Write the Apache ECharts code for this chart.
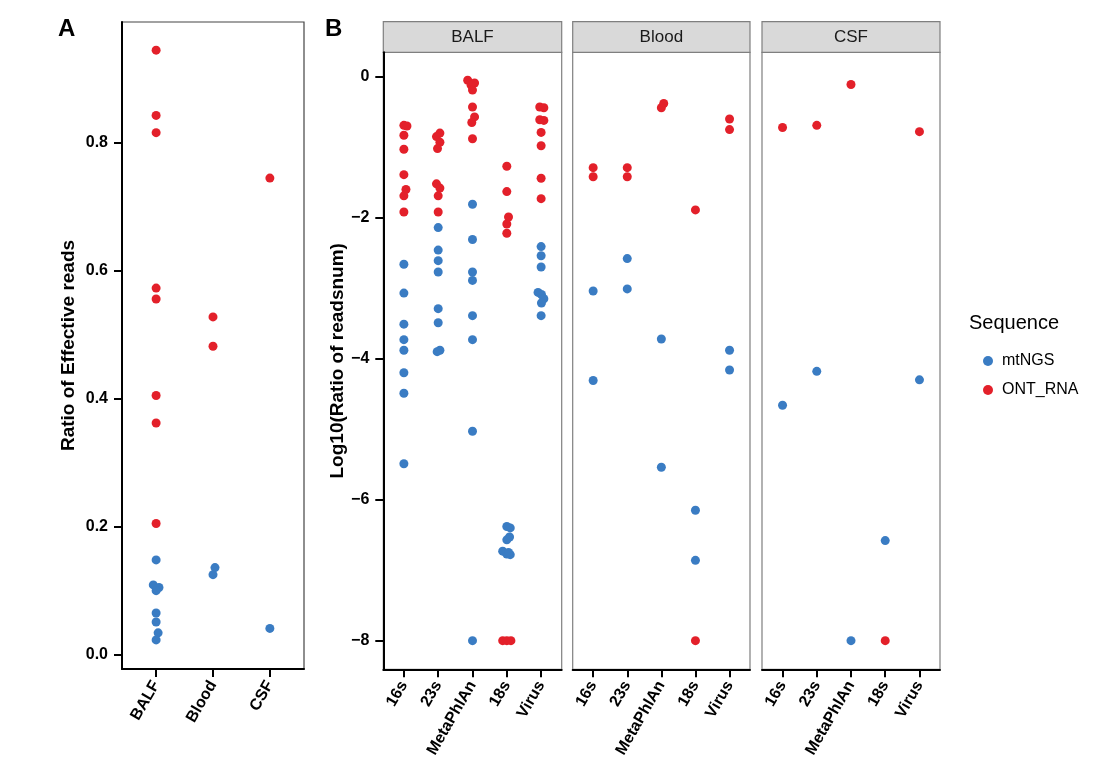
<!DOCTYPE html>
<html>
<head>
<meta charset="utf-8">
<script src="https://cdn.jsdelivr.net/npm/echarts@6/dist/echarts.min.js"></script>
<style>
    html, body {margin: 0; padding: 0; background: #fff;}
    #chart {width: 1110px; height: 780px;}
</style>
</head>
<body>
<div id="chart"></div>
<script>
// categories
var sampleCats = ['BALF', 'Blood', 'CSF'];
var dbCats = ['16s', '23s', 'MetaPhlAn', '18s', 'Virus'];
var seqNames = ['mtNGS', 'ONT_RNA'];

// tick labels
var effTicks = [0, 0.2, 0.4, 0.6, 0.8];
var logTicks = [0, -2, -4, -6, -8];

// [category, value, jitter in category units]
var effMtNGS = [
    ['BALF', 0.148, 0], ['BALF', 0.109, -0.05], ['BALF', 0.105, 0.05], ['BALF', 0.100, 0],
    ['BALF', 0.065, 0], ['BALF', 0.051, 0], ['BALF', 0.034, 0.035], ['BALF', 0.023, 0],
    ['Blood', 0.136, 0.035], ['Blood', 0.125, 0],
    ['CSF', 0.041, 0]
];
var effONT = [
    ['BALF', 0.945, 0], ['BALF', 0.843, 0], ['BALF', 0.816, 0], ['BALF', 0.573, 0],
    ['BALF', 0.556, 0], ['BALF', 0.405, 0], ['BALF', 0.362, 0], ['BALF', 0.205, 0],
    ['Blood', 0.528, 0], ['Blood', 0.482, 0],
    ['CSF', 0.745, 0]
];

var balfMtNGS = [
    ['16s', -2.66, 0], ['16s', -3.07, 0], ['16s', -3.51, 0], ['16s', -3.73, 0],
    ['16s', -3.88, 0], ['16s', -4.20, 0], ['16s', -4.49, 0], ['16s', -5.49, 0],
    ['23s', -2.14, 0], ['23s', -2.46, 0], ['23s', -2.61, 0], ['23s', -2.77, 0],
    ['23s', -3.29, 0], ['23s', -3.49, 0], ['23s', -3.88, 0.05], ['23s', -3.90, -0.03],
    ['MetaPhlAn', -1.81, 0], ['MetaPhlAn', -2.31, 0], ['MetaPhlAn', -2.77, 0], ['MetaPhlAn', -2.89, 0],
    ['MetaPhlAn', -3.39, 0], ['MetaPhlAn', -3.73, 0], ['MetaPhlAn', -5.03, 0], ['MetaPhlAn', -8.0, 0],
    ['18s', -6.38, 0], ['18s', -6.40, 0.1], ['18s', -6.53, 0.08], ['18s', -6.57, 0],
    ['18s', -6.73, -0.12], ['18s', -6.77, 0], ['18s', -6.78, 0.1], ['18s', -6.75, 0.05],
    ['Virus', -2.41, 0], ['Virus', -2.54, 0], ['Virus', -2.70, 0], ['Virus', -3.06, -0.09],
    ['Virus', -3.09, 0.01], ['Virus', -3.15, 0.08], ['Virus', -3.21, 0.01], ['Virus', -3.39, 0]
];
var balfONT = [
    ['16s', -0.69, 0], ['16s', -0.70, 0.09], ['16s', -0.83, 0], ['16s', -1.03, 0],
    ['16s', -1.39, 0], ['16s', -1.60, 0.06], ['16s', -1.69, 0], ['16s', -1.92, 0],
    ['23s', -0.80, 0.05], ['23s', -0.85, -0.05], ['23s', -0.93, 0.05], ['23s', -1.02, -0.02],
    ['23s', -1.52, -0.05], ['23s', -1.58, 0.05], ['23s', -1.69, 0], ['23s', -1.92, 0],
    ['MetaPhlAn', -0.05, -0.14], ['MetaPhlAn', -0.09, 0.06], ['MetaPhlAn', -0.12, -0.04], ['MetaPhlAn', -0.19, 0],
    ['MetaPhlAn', -0.43, 0], ['MetaPhlAn', -0.57, 0.06], ['MetaPhlAn', -0.65, -0.02], ['MetaPhlAn', -0.88, 0],
    ['18s', -1.27, 0], ['18s', -1.63, 0], ['18s', -1.99, 0.05], ['18s', -2.09, 0],
    ['18s', -2.22, 0], ['18s', -8.0, -0.12], ['18s', -8.0, 0], ['18s', -8.0, 0.12],
    ['Virus', -0.43, -0.04], ['Virus', -0.44, 0.08], ['Virus', -0.61, -0.04], ['Virus', -0.62, 0.08],
    ['Virus', -0.79, 0], ['Virus', -0.98, 0], ['Virus', -1.44, 0], ['Virus', -1.73, 0]
];

var bloodMtNGS = [
    ['16s', -3.04, 0], ['16s', -4.31, 0], ['23s', -2.58, 0], ['23s', -3.01, 0],
    ['MetaPhlAn', -3.72, 0], ['MetaPhlAn', -5.54, 0], ['18s', -6.15, 0], ['18s', -6.86, 0],
    ['Virus', -3.88, 0], ['Virus', -4.16, 0]
];
var bloodONT = [
    ['16s', -1.29, 0], ['16s', -1.42, 0], ['23s', -1.29, 0], ['23s', -1.42, 0],
    ['MetaPhlAn', -0.38, 0.07], ['MetaPhlAn', -0.44, 0], ['18s', -1.89, 0], ['18s', -8.0, 0],
    ['Virus', -0.60, 0], ['Virus', -0.75, 0]
];

var csfMtNGS = [
    ['16s', -4.66, 0], ['23s', -4.18, 0], ['MetaPhlAn', -8.0, 0], ['18s', -6.58, 0], ['Virus', -4.30, 0]
];
var csfONT = [
    ['16s', -0.72, 0], ['23s', -0.69, 0], ['MetaPhlAn', -0.11, 0], ['18s', -8.0, 0], ['Virus', -0.78, 0]
];

var colors = {mtNGS: '#3a7cc3', ONT_RNA: '#e3202a'};
var fontFam = '"Liberation Sans", Arial, Helvetica, sans-serif';

function toPoints(rows, cats) {
    return rows.map(function (d) {
        return [cats.indexOf(d[0]) + 1 + d[2], d[1]];
    });
}

var panels = [
    {name: 'BALF', left: 383.3, width: 178.4, blue: balfMtNGS, red: balfONT},
    {name: 'Blood', left: 572.7, width: 177.3, blue: bloodMtNGS, red: bloodONT},
    {name: 'CSF', left: 762, width: 178, blue: csfMtNGS, red: csfONT}
];

var axisBlack = {show: true, onZero: false, lineStyle: {color: '#000', width: 2}};
var tickBlack = {show: true, inside: false, length: 8, lineStyle: {color: '#000', width: 2}};
var boldLabel = {color: '#000', fontSize: 16, fontWeight: 'bold', fontFamily: fontFam};
var titleStyle = {color: '#000', fontSize: 19, fontWeight: 'bold', fontFamily: fontFam};

var grids = [{left: 122, top: 22, width: 182, height: 647, show: true, borderColor: '#444', borderWidth: 1.2, z: 0}];
var xAxes = [{
    type: 'value', gridIndex: 0, min: 0.4, max: 3.6,
    splitLine: {show: false}, axisLine: axisBlack,
    axisTick: Object.assign({customValues: [1, 2, 3]}, tickBlack),
    axisLabel: Object.assign({}, boldLabel, {customValues: [1, 2, 3], rotate: 60, margin: 13,
        formatter: function (v) { return sampleCats[Math.round(v) - 1]; }})
}];
var yAxes = [{
    type: 'value', gridIndex: 0, min: -0.0225, max: 0.989,
    splitLine: {show: false}, axisLine: axisBlack,
    axisTick: Object.assign({customValues: effTicks}, tickBlack),
    axisLabel: Object.assign({}, boldLabel, {customValues: effTicks, margin: 14,
        formatter: function (v) { return v.toFixed(1); }}),
    name: 'Ratio of Effective reads', nameLocation: 'middle', nameGap: 44,
    nameTextStyle: titleStyle
}];
var series = [
    {name: 'mtNGS', type: 'scatter', xAxisIndex: 0, yAxisIndex: 0, symbolSize: 9,
        itemStyle: {color: colors.mtNGS, opacity: 1}, data: toPoints(effMtNGS, sampleCats)},
    {name: 'ONT_RNA', type: 'scatter', xAxisIndex: 0, yAxisIndex: 0, symbolSize: 9,
        itemStyle: {color: colors.ONT_RNA, opacity: 1}, data: toPoints(effONT, sampleCats)}
];
var graphics = [
    {type: 'text', left: 58, top: 17, style: {text: 'A', font: 'bold 24px ' + fontFam, fill: '#000'}},
    {type: 'text', left: 325, top: 17, style: {text: 'B', font: 'bold 24px ' + fontFam, fill: '#000'}},
    {type: 'text', left: 969, top: 313, style: {text: 'Sequence', font: '20px ' + fontFam, fill: '#000'}}
];

panels.forEach(function (p, i) {
    var gi = i + 1;
    grids.push({left: p.left, top: 52.3, width: p.width, height: 617, show: true,
        borderColor: '#7f7f7f', borderWidth: 1.2, z: 0});
    xAxes.push({
        type: 'value', gridIndex: gi, min: 0.4, max: 5.6,
        splitLine: {show: false}, axisLine: axisBlack,
        axisTick: Object.assign({customValues: [1, 2, 3, 4, 5]}, tickBlack),
        axisLabel: Object.assign({}, boldLabel, {customValues: [1, 2, 3, 4, 5], rotate: 60, margin: 13,
            formatter: function (v) { return dbCats[Math.round(v) - 1]; }})
    });
    var ya = {type: 'value', gridIndex: gi, min: -8.406, max: 0.346, splitLine: {show: false}};
    if (i === 0) {
        ya.axisLine = axisBlack;
        ya.axisTick = Object.assign({customValues: logTicks}, tickBlack);
        ya.axisLabel = Object.assign({}, boldLabel, {customValues: logTicks, margin: 14,
            formatter: function (v) { return v === 0 ? '0' : '\u2212' + Math.abs(v); }});
        ya.name = 'Log10(Ratio of readsnum)';
        ya.nameLocation = 'middle';
        ya.nameGap = 35;
        ya.nameTextStyle = titleStyle;
    } else {
        ya.axisLine = {show: false};
        ya.axisTick = {show: false};
        ya.axisLabel = {show: false};
    }
    yAxes.push(ya);
    series.push({name: 'mtNGS', type: 'scatter', xAxisIndex: gi, yAxisIndex: gi, symbolSize: 9,
        itemStyle: {color: colors.mtNGS, opacity: 1}, data: toPoints(p.blue, dbCats)});
    series.push({name: 'ONT_RNA', type: 'scatter', xAxisIndex: gi, yAxisIndex: gi, symbolSize: 9,
        itemStyle: {color: colors.ONT_RNA, opacity: 1}, data: toPoints(p.red, dbCats)});
    // strip header
    graphics.push({type: 'rect', shape: {x: p.left, y: 21.7, width: p.width, height: 30.6},
        style: {fill: '#d9d9d9', stroke: '#7f7f7f', lineWidth: 1.2}});
    graphics.push({type: 'text', x: p.left + p.width / 2, y: 37.5,
        style: {text: p.name, font: '17px ' + fontFam, fill: '#1a1a1a', align: 'center', verticalAlign: 'middle'}});
});

var chart = echarts.init(document.getElementById('chart'));
chart.setOption({
    animation: false,
    backgroundColor: '#fff',
    textStyle: {fontFamily: fontFam},
    grid: grids,
    xAxis: xAxes,
    yAxis: yAxes,
    legend: {
        data: seqNames, orient: 'vertical', left: 978, top: 348, itemGap: 13,
        icon: 'circle', itemWidth: 10, itemHeight: 10,
        textStyle: {fontSize: 16, color: '#000', fontFamily: fontFam, padding: [0, 0, 0, 4]}
    },
    graphic: graphics,
    series: series
});
</script>
</body>
</html>
